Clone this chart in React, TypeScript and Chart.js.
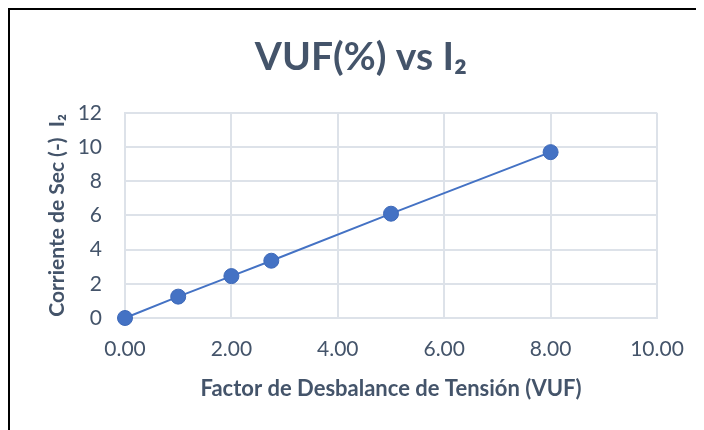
import { useEffect, useRef } from "react";
import { Chart, registerables } from "chart.js";

Chart.register(...registerables);

const chartTitle = "VUF(%) vs I₂";
const xAxisTitle = "Factor de Desbalance de Tensión (VUF)";
const yAxisTitle = "Corriente de Sec (-)  I₂";
const vufValues = [0, 1, 2, 2.75, 5, 8];
const i2Values = [0, 1.25, 2.45, 3.35, 6.1, 9.7];
const xMin = 0;
const xMax = 10;
const xStep = 2;
const yMin = 0;
const yMax = 12;
const yStep = 2;

const TEXT = "#44546A";
const GRID = "#DDE2E9";
const BLUE = "#4472C4";
const FONT = "Lato, 'Open Sans', sans-serif";

export default function App() {
  const ref = useRef<HTMLCanvasElement | null>(null);

  useEffect(() => {
    if (!ref.current) return;
    const points = vufValues.map((x, i) => ({ x, y: i2Values[i] }));
    const chart = new Chart(ref.current, {
      type: "scatter",
      data: {
        datasets: [
          {
            data: points,
            showLine: true,
            clip: false,
            borderColor: BLUE,
            borderWidth: 2,
            backgroundColor: BLUE,
            pointBackgroundColor: BLUE,
            pointBorderColor: "#3E69B8",
            pointBorderWidth: 1,
            pointRadius: 7.5,
          },
        ],
      },
      options: {
        animation: false,
        responsive: false,
        layout: { padding: { left: 16, right: 0, top: 0, bottom: 0 } },
        plugins: {
          legend: { display: false },
          tooltip: { enabled: false },
          title: {
            display: true,
            text: chartTitle,
            color: TEXT,
            font: { family: FONT, size: 39, weight: "bold" },
            padding: { top: 24, bottom: 32 },
          },
        },
        scales: {
          x: {
            type: "linear",
            min: xMin,
            max: xMax,
            ticks: {
              stepSize: xStep,
              padding: 19,
              color: TEXT,
              font: { family: FONT, size: 21 },
              callback: (v: any) => Number(v).toFixed(2),
            },
            grid: { color: GRID, lineWidth: 2, drawTicks: false },
            border: { color: GRID, width: 2 },
            title: {
              display: true,
              text: xAxisTitle,
              color: TEXT,
              font: { family: FONT, size: 22, weight: "bold" },
              padding: { top: 10, bottom: 38 },
            },
            afterFit: (s: any) => {
              s.height = 122;
              s.paddingLeft = 0;
              s.paddingRight = 0;
            },
          },
          y: {
            type: "linear",
            min: yMin,
            max: yMax,
            ticks: {
              stepSize: yStep,
              padding: 23,
              color: TEXT,
              font: { family: FONT, size: 21 },
            },
            grid: { color: GRID, lineWidth: 2, drawTicks: false },
            border: { color: GRID, width: 2 },
            title: {
              display: true,
              text: yAxisTitle,
              color: TEXT,
              font: { family: FONT, size: 21, weight: "bold" },
              padding: { top: 19, bottom: 10 },
            },
            afterFit: (s: any) => {
              s.width = 99;
              s.paddingTop = 0;
              s.paddingBottom = 0;
            },
          },
          spacer: {
            type: "linear",
            position: "right",
            display: true,
            grid: { display: false, drawOnChartArea: false, drawTicks: false },
            border: { display: false },
            ticks: { display: false },
            afterFit: (s: any) => {
              s.width = 39;
              s.paddingTop = 0;
              s.paddingBottom = 0;
            },
          },
        },
      },
    });
    return () => chart.destroy();
  }, []);

  return (
    <div
      style={{
        width: 686,
        height: 440,
        border: "2px solid #000",
        background: "#fff",
      }}
    >
      <canvas ref={ref} width={686} height={430} style={{ display: "block" }} />
    </div>
  );
}
